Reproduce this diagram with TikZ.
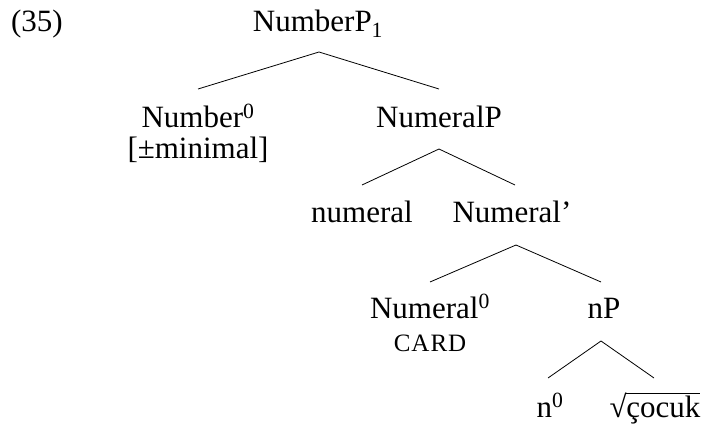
\documentclass[tikz,border=0pt]{standalone}
\usepackage{fontspec}
\setmainfont{Liberation Serif}
\newcommand{\rootword}[1]{√\kern-0.5pt\vbox{\hrule height 0.9pt\kern1.5pt\hbox{#1}}}
\begin{document}
\begin{tikzpicture}[x=1pt,y=-1pt,
  lbl/.style={anchor=base,inner sep=0pt,font=\fontsize{31}{36}\selectfont},
  feat/.style={anchor=base,inner sep=0pt,font=\fontsize{25}{30}\selectfont},
  edge/.style={line width=0.8pt}]
\useasboundingbox (0,0) rectangle (704,425);
\node[lbl] (ex) at (37,32) {(35)};
\node[lbl] (root) at (318,32) {NumberP\textsubscript{1}};
\node[lbl] (num0) at (198,128) {Number\textsuperscript{0}};
\node[lbl] (minf) at (198,159) {[±minimal]};
\node[lbl] (numP) at (439,128) {NumeralP};
\node[lbl] (numeral) at (362,222) {numeral};
\node[lbl] (nbar) at (512,222) {Numeral’};
\node[lbl] (numhead) at (430,318) {Numeral\textsuperscript{0}};
\node[feat] (card) at (430,351) {\addfontfeature{LetterSpace=4}CARD};
\node[lbl] (nP) at (604,318) {nP};
\node[lbl] (n0) at (550,417) {n\textsuperscript{0}};
\node[lbl] (cocuk) at (655,417) {\rootword{çocuk}};
\draw[edge] ([xshift=1pt,yshift=-20pt]root.base) -- ([yshift=39pt]num0.base);
\draw[edge] ([xshift=1pt,yshift=-20pt]root.base) -- ([yshift=39pt]numP.base);
\draw[edge] ([yshift=-21pt]numP.base) -- ([yshift=37pt]numeral.base);
\draw[edge] ([yshift=-21pt]numP.base) -- ([xshift=3pt,yshift=37pt]nbar.base);
\draw[edge] ([xshift=4pt,yshift=-23pt]nbar.base) -- ([yshift=36pt]numhead.base);
\draw[edge] ([xshift=4pt,yshift=-23pt]nbar.base) -- ([xshift=-3pt,yshift=36pt]nP.base);
\draw[edge] ([xshift=-3pt,yshift=-23pt]nP.base) -- ([xshift=-2pt,yshift=39pt]n0.base);
\draw[edge] ([xshift=-3pt,yshift=-23pt]nP.base) -- ([xshift=-1pt,yshift=39pt]cocuk.base);
\end{tikzpicture}
\end{document}
